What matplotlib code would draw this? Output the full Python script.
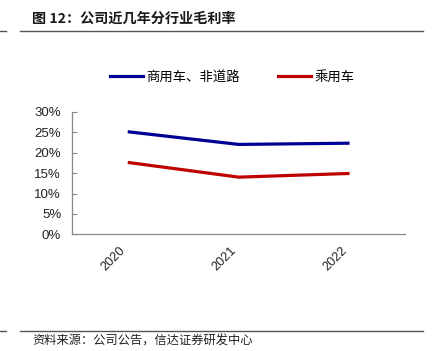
import matplotlib
matplotlib.use("Agg")
import matplotlib.pyplot as plt
from matplotlib.lines import Line2D
import matplotlib.transforms as mtransforms

plt.rcParams['font.family'] = ['Liberation Sans', 'Noto Sans CJK SC', 'DejaVu Sans']

years = ['2020', '2021', '2022']
commercial = [25.1, 22.0, 22.3]   # 商用车、非道路
passenger = [17.6, 14.0, 14.9]    # 乘用车
yticks = [0, 5, 10, 15, 20, 25, 30]
ytick_labels = ['0%', '5%', '10%', '15%', '20%', '25%', '30%']

W, H = 433, 351
fig = plt.figure(figsize=(W / 100, H / 100), dpi=100)

ax = fig.add_axes([72.3 / W, 1 - 234.4 / H, (405 - 72.3) / W, (234.4 - 111.7) / H])
x = list(range(len(years)))
ax.plot(x, commercial, color='#000096', lw=2.3, solid_capstyle='butt')
ax.plot(x, passenger, color='#C00000', lw=2.3, solid_capstyle='butt')
ax.set_xlim(-0.5, len(years) - 0.5)
ax.set_ylim(0, 30)
ax.set_yticks(yticks)
ax.set_yticklabels(ytick_labels, fontsize=9.5, color='#222222')
ax.set_xticks(x)
ax.set_xticklabels(years, rotation=45, ha='right', fontsize=9.2, color='#222222')
off = mtransforms.ScaledTranslation(5 / 100, 0, fig.dpi_scale_trans)
for lab in ax.get_xticklabels():
    lab.set_transform(lab.get_transform() + off)
ax.tick_params(axis='x', length=0, pad=7.5)
ax.tick_params(axis='y', direction='in', length=3.5, width=0.8, color='#888888', pad=8)
for s in ['top', 'right']:
    ax.spines[s].set_visible(False)
ax.spines['left'].set_color('#888888')
ax.spines['bottom'].set_color('#888888')
ax.spines['left'].set_linewidth(0.9)
ax.spines['bottom'].set_linewidth(0.9)
ax.patch.set_alpha(0)

# legend
handles = [Line2D([], [], color='#000096', lw=2.3), Line2D([], [], color='#C00000', lw=2.3)]
fig.legend(handles, ['商用车、非道路', '乘用车'], loc='center', bbox_to_anchor=(232 / W, 1 - 76.5 / H),
           ncol=2, frameon=False, handlelength=2.5, handletextpad=0.2,
           columnspacing=2.9, prop={'family': ['Noto Sans CJK SC'], 'size': 9.6})

# title and rules
fig.text(32 / W, 1 - 19 / H, '图 12：公司近几年分行业毛利率', fontsize=10.2, fontweight='bold',
         color='#1a1a1a', va='center', ha='left', family=['Noto Sans CJK SC', 'DejaVu Sans'])
fig.add_artist(Line2D([20 / W, 423 / W], [1 - 31 / H, 1 - 31 / H], color='#555555', lw=1.0))
fig.add_artist(Line2D([0, 6 / W], [1 - 31 / H, 1 - 31 / H], color='#555555', lw=1.0))
fig.add_artist(Line2D([20 / W, 423 / W], [1 - 330.7 / H, 1 - 330.7 / H], color='#555555', lw=1.0))
fig.add_artist(Line2D([0, 6 / W], [1 - 330.7 / H, 1 - 330.7 / H], color='#555555', lw=1.0))
fig.text(32 / W, 1 - 341.5 / H, '资料来源：公司公告，信达证券研发中心', fontsize=8.8, color='#222222',
         va='center', ha='left', family=['Noto Sans CJK SC', 'DejaVu Sans'])

fig.savefig('out.png', dpi=100)
